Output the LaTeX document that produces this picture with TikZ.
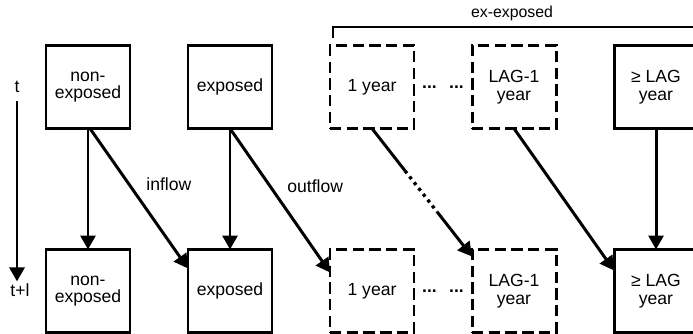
\documentclass[tikz,border=0pt]{standalone}
\usepackage{fontspec}
\setmainfont{Liberation Sans}
\usetikzlibrary{positioning,arrows.meta,calc}

\begin{document}
\begin{tikzpicture}[
    x=0.2mm, y=-0.2mm,
    node distance=2.42cm and 1.16cm,
 mybox/.style = {
        draw, rectangle, align=center, line width=1.7pt,
        minimum width=1.68cm, minimum height=1.66cm,
        inner sep=0pt, outer sep=0pt,
        font=\fontsize{10}{10}\selectfont},
mydash/.style = {mybox, dash pattern=on 6.5pt off 3pt},
 mydots/.style = {font=\fontsize{10}{10}\selectfont\bfseries, inner sep=0pt},
     arrow/.style = {line width=1.7pt,-{Triangle[length=2.8mm,width=3mm]}}
                    ]
\useasboundingbox (0,0) rectangle (693,334);
% the time axis
\node (t0) [inner sep=1pt] at (17,87) {t};
\node (t1) [inner sep=1pt] at (20,290) {t+l};
\draw[arrow, shorten <=1.2mm] (t0.south) -- (t0.south |- t1.north);
% the boxes at time t
\node (ne1) [mybox] at (88,87) {non-\\exposed};
\node (ex1) [mybox, right=of ne1]   {exposed};
\node (yr1) [mydash,right=of ex1]   {1 year};
\node (lg1) [mydash,right=of yr1]   {LAG-1\\year};
\node (gl1) [mybox, right=of lg1]   {≥ LAG\\year};
% the boxes at time t+l
\node (ne2) [mybox, below=of ne1]   {non-\\exposed};
\node (ex2) [mybox, below=of ex1]   {exposed};
\node (yr2) [mydash,below=of yr1]   {1 year};
\node (lg2) [mydash,below=of lg1]   {LAG-1\\year};
\node (gl2) [mybox, below=of gl1]   {≥ LAG\\year};
% the dots between the boxes
\node (d1) [mydots] at ($(yr1.east)!0.5!(lg1.west)$) {...\hspace{7pt}...};
\node (d2) [mydots] at ($(yr2.east)!0.5!(lg2.west)$) {...\hspace{7pt}...};
% the bracket on top
\coordinate (bl) at (333,38);
\coordinate (br) at (720,38);
\draw[line width=1.7pt] (bl) |- (br |- 0,27) -- (br);
\node (xl) at (512,13) {\fontsize{9}{9}\selectfont ex-exposed};
% the flows
\draw[arrow] (ne1) -- (ne2);
\draw[arrow] (ex1) -- (ex2);
\draw[arrow] (gl1) -- (gl2);
\draw[arrow] ([xshift=0.4mm]ne1.south) -- ([yshift=-3.8mm]ex2.north west)
        node[midway, above right, font=\fontsize{10}{10}\selectfont] {inflow};
\draw[arrow] (ex1.south) -- ([yshift=-4.6mm]yr2.north west)
        node[midway, above right, font=\fontsize{10}{10}\selectfont] {outflow};
\draw[arrow] (lg1.south) -- ([yshift=-4.2mm]gl2.north west);
% the broken flow
\path (yr1.south) -- coordinate[pos=0.33] (p1) coordinate[pos=0.65] (p2)
                     ([yshift=-1.4mm]lg2.north west) coordinate (p3);
\draw[line width=1.7pt] (yr1.south) -- (p1);
\draw[line width=1.9pt, dash pattern=on 1.8pt off 2.4pt] (p1) -- (p2);
\draw[arrow] (p2) -- (p3);
\end{tikzpicture}
\end{document}
